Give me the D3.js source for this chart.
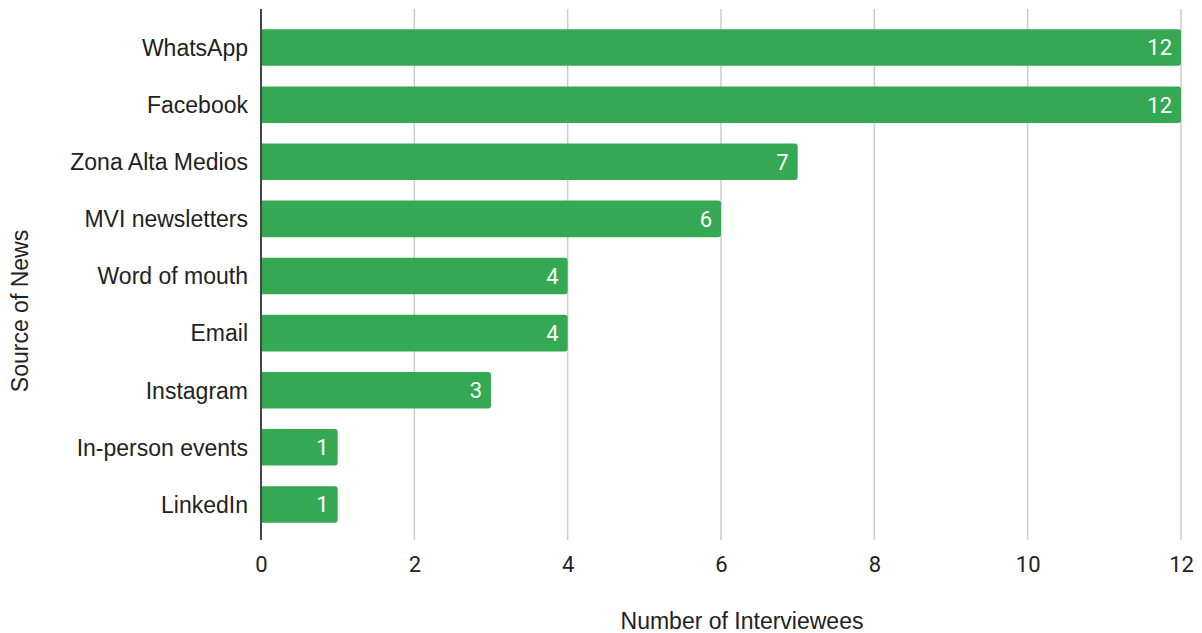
<!DOCTYPE html>
<html><head><meta charset="utf-8">
<script src="https://cdn.jsdelivr.net/npm/d3@7"></script>
<style>body{margin:0;background:#fff}svg{display:block}</style>
</head><body>
<svg id="c" width="1202" height="633"></svg>
<script>
const categories = ["WhatsApp","Facebook","Zona Alta Medios","MVI newsletters","Word of mouth","Email","Instagram","In-person events","LinkedIn"];
const values = [12,12,7,6,4,4,3,1,1];
const xTicks = [0,2,4,6,8,10,12];
const xTitle = "Number of Interviewees";
const yTitle = "Source of News";

const svg = d3.select("#c");
const x = d3.scaleLinear().domain([0,12]).range([261,1181]);
const y = d3.scaleBand().domain(categories).range([19,533]).paddingInner(0.36).paddingOuter(0.18);
const plotTop = 9, plotBottom = 540;
const sans = "'Liberation Sans', Arial, sans-serif";

// gridlines
svg.append("g").selectAll("line").data(xTicks.filter(d=>d>0)).join("line")
  .attr("x1",d=>x(d)).attr("x2",d=>x(d)).attr("y1",plotTop).attr("y2",plotBottom)
  .attr("stroke","#cccccc").attr("stroke-width",1.5);

// bars with rounded right corners
const r = 3;
svg.append("g").selectAll("path").data(values).join("path")
  .attr("fill","#34a853")
  .attr("d",(d,i)=>{
    const x0 = x(0)+1, x1 = x(d), y0 = y(categories[i]), h = y.bandwidth();
    return `M${x0},${y0}H${x1-r}Q${x1},${y0} ${x1},${y0+r}V${y0+h-r}Q${x1},${y0+h} ${x1-r},${y0+h}H${x0}Z`;
  });

// value labels
svg.append("g").selectAll("text").data(values).join("text")
  .attr("x",d=>x(d)-9).attr("y",(d,i)=>y(categories[i])+y.bandwidth()/2)
  .attr("dy","0.36em").attr("text-anchor","end").attr("fill","#fff")
  .attr("font-family","Roboto").attr("font-size",22).text(d=>d);

// y axis line
svg.append("line").attr("x1",x(0)).attr("x2",x(0)).attr("y1",plotTop).attr("y2",plotBottom)
  .attr("stroke","#333").attr("stroke-width",1.8);

// category labels
svg.append("g").selectAll("text").data(categories).join("text")
  .attr("x",248).attr("y",d=>y(d)+y.bandwidth()/2).attr("dy","0.36em")
  .attr("text-anchor","end").attr("fill","#222")
  .attr("font-family",sans).attr("font-size",23).text(d=>d);

// x tick labels
const xAxis = d3.axisBottom(x).tickValues(xTicks).tickSize(0).tickPadding(0);
const gx = svg.append("g").attr("transform",`translate(0,${556})`).call(xAxis);
gx.select(".domain").remove();
gx.selectAll("text").attr("font-family","Roboto").attr("font-size",22).attr("fill","#222").attr("dy","0.71em");

// axis titles
svg.append("text").attr("x",742).attr("y",629).attr("text-anchor","middle")
  .attr("font-family",sans).attr("font-size",23).attr("fill","#222").text(xTitle);
svg.append("text").attr("transform","translate(28,311) rotate(-90)").attr("text-anchor","middle")
  .attr("font-family",sans).attr("font-size",23).attr("fill","#222").text(yTitle);
</script>
</body></html>
